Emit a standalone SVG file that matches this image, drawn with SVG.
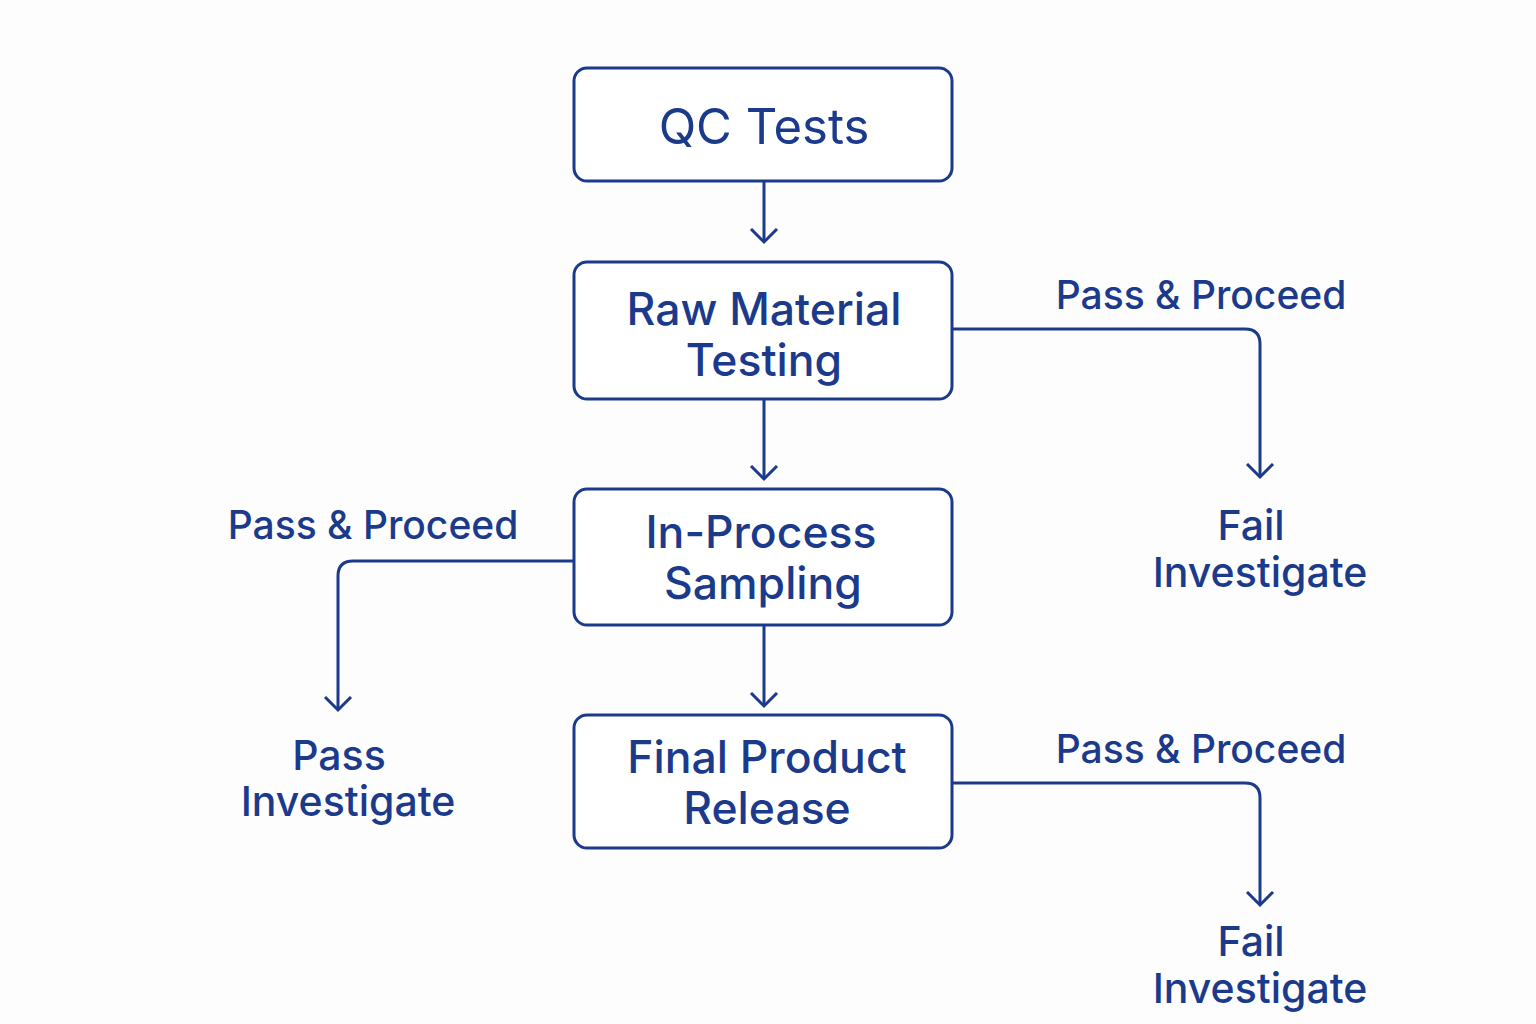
<svg xmlns="http://www.w3.org/2000/svg" width="1536" height="1024" viewBox="0 0 1536 1024">
<style>
.box{fill:#fff;stroke:#1b3a8c;stroke-width:3}
.ln{fill:none;stroke:#1b3a8c;stroke-width:3}
.t{font-family:Inter,"Liberation Sans",sans-serif;fill:#1b3a8c;text-anchor:middle;font-weight:500}
.bt{font-size:44.5px}
.lt{font-size:39px}
.ot{font-size:41px}
</style>
<defs>
<marker id="ah" markerWidth="30" markerHeight="30" refX="14" refY="15" viewBox="0 0 30 30" markerUnits="userSpaceOnUse" orient="auto">
<path d="M1 2 L14 15 L1 28" fill="none" stroke="#1b3a8c" stroke-width="3"/>
</marker>
</defs>
<rect width="1536" height="1024" fill="#fdfdfd"/>
<g id="connectors">
<path class="ln" d="M764 181 V242" marker-end="url(#ah)"/>
<path class="ln" d="M764 399 V479" marker-end="url(#ah)"/>
<path class="ln" d="M764 625 V706" marker-end="url(#ah)"/>
<path class="ln" d="M952 329 H1245 Q1260 329 1260 344 V477" marker-end="url(#ah)"/>
<path class="ln" d="M574 561 H353 Q338 561 338 576 V710" marker-end="url(#ah)"/>
<path class="ln" d="M952 783 H1245 Q1260 783 1260 798 V905" marker-end="url(#ah)"/>
</g>
<g id="qc">
<rect class="box" x="574" y="68" width="378" height="113" rx="13"/>
<text class="t" x="764" y="144" style="font-size:49px;font-weight:400">QC Tests</text>
</g>
<g id="raw">
<rect class="box" x="574" y="262" width="378" height="137" rx="13"/>
<text class="t bt" x="764" y="325">Raw Material</text>
<text class="t bt" x="764" y="376">Testing</text>
</g>
<g id="inproc">
<rect class="box" x="574" y="489" width="378" height="136" rx="13"/>
<text class="t bt" x="761" y="548">In-Process</text>
<text class="t bt" x="763" y="599">Sampling</text>
</g>
<g id="final">
<rect class="box" x="574" y="715" width="378" height="133" rx="13"/>
<text class="t bt" x="767" y="773">Final Product</text>
<text class="t bt" x="767" y="824">Release</text>
</g>
<g id="lbl-raw-pass"><text class="t lt" x="1201" y="309">Pass &amp; Proceed</text></g>
<g id="fail1">
<text class="t ot" x="1251" y="540">Fail</text>
<text class="t ot" x="1260" y="587">Investigate</text>
</g>
<g id="lbl-inproc-pass"><text class="t lt" x="373" y="539">Pass &amp; Proceed</text></g>
<g id="pass2">
<text class="t ot" x="339" y="770">Pass</text>
<text class="t ot" x="348" y="816">Investigate</text>
</g>
<g id="lbl-final-pass"><text class="t lt" x="1201" y="763">Pass &amp; Proceed</text></g>
<g id="fail3">
<text class="t ot" x="1251" y="956">Fail</text>
<text class="t ot" x="1260" y="1003">Investigate</text>
</g>
</svg>
